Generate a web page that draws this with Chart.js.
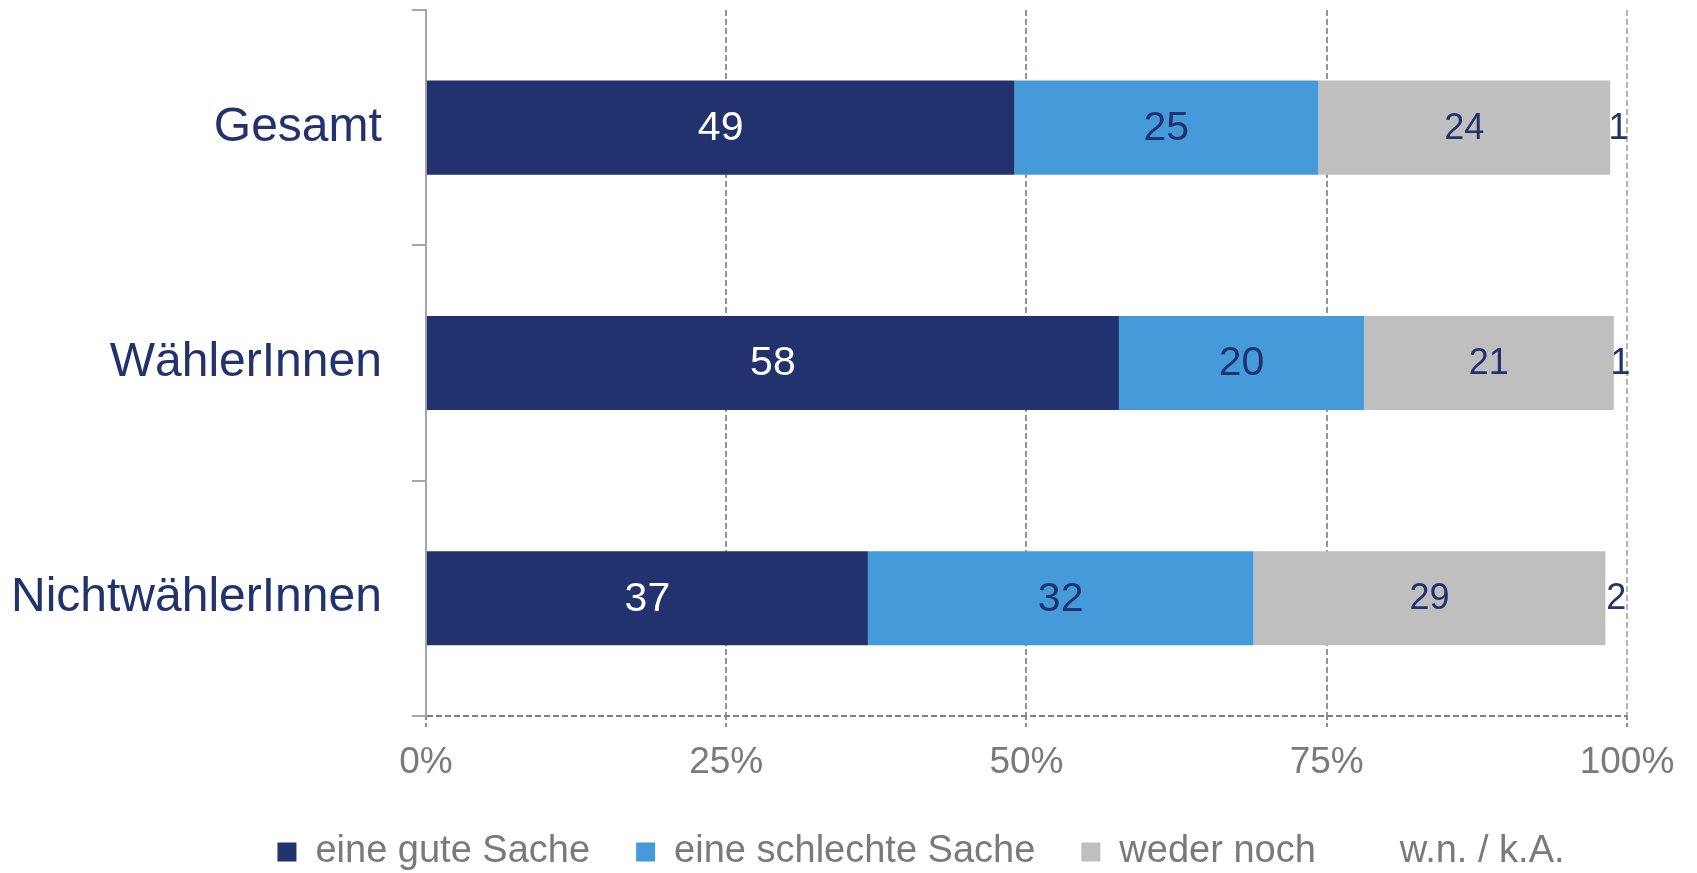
<!DOCTYPE html>
<html><head><meta charset="utf-8">
<script src="https://cdn.jsdelivr.net/npm/chart.js@4.4.1/dist/chart.umd.min.js"></script>
<style>html,body{margin:0;padding:0;background:#fff;}#wrap{width:1697px;height:873px;position:relative;}</style>
</head><body><div id="wrap"><canvas id="c"></canvas></div>
<script>
const categories = ['Gesamt', 'WählerInnen', 'NichtwählerInnen'];
const seriesNames = ['eine gute Sache', 'eine schlechte Sache', 'weder noch', 'w.n. / k.A.'];
const gut = [49.0, 57.7, 36.8];
const schlecht = [25.3, 20.4, 32.1];
const weder = [24.3, 20.8, 29.3];
const wnka = [1.4, 1.1, 1.8];
const xTickValues = [0, 25, 50, 75, 100];

const FONT = '"Liberation Sans", Arial, sans-serif';
const NAVY = '#22326e';

const valueLabels = {
  id: 'valueLabels',
  afterDatasetsDraw(chart) {
    const ctx = chart.ctx;
    chart.data.datasets.forEach((ds, i) => {
      const meta = chart.getDatasetMeta(i);
      if (meta.hidden) return;
      const st = ds.labelStyle;
      ctx.save();
      ctx.font = st.size + 'px ' + FONT;
      ctx.fillStyle = st.color;
      ctx.textAlign = 'center';
      ctx.textBaseline = 'middle';
      meta.data.forEach((el, j) => {
        const x = (el.x + el.base) / 2;
        ctx.fillText(String(Math.round(ds.data[j])), x, el.y + 1);
      });
      ctx.restore();
    });
  }
};

const legendShift = {
  id: 'legendShift',
  afterLayout(chart) {
    const L = chart.legend;
    if (L) { L.left += 102; L.right += 102; }
  }
};

new Chart(document.getElementById('c'), {
  type: 'bar',
  data: {
    labels: categories,
    datasets: [
      { label: seriesNames[0], data: gut, backgroundColor: '#22326e', borderColor: 'rgba(0,0,0,0)', borderWidth: 0, labelStyle: { color: '#ffffff', size: 41 } },
      { label: seriesNames[1], data: schlecht, backgroundColor: '#459ad9', borderColor: 'rgba(0,0,0,0)', borderWidth: 0, labelStyle: { color: NAVY, size: 41 } },
      { label: seriesNames[2], data: weder, backgroundColor: '#bfbfbf', borderColor: 'rgba(0,0,0,0)', borderWidth: 0, labelStyle: { color: NAVY, size: 36 } },
      { label: seriesNames[3], data: wnka, backgroundColor: 'rgba(0,0,0,0)', borderColor: 'rgba(0,0,0,0)', borderWidth: 0, labelStyle: { color: NAVY, size: 36 } }
    ]
  },
  options: {
    indexAxis: 'y',
    responsive: true,
    maintainAspectRatio: false,
    animation: false,
    devicePixelRatio: 1,
    events: [],
    layout: { padding: { left: 11, right: 70, top: 10, bottom: 0 } },
    datasets: { bar: { barPercentage: 0.8, categoryPercentage: 0.5 } },
    scales: {
      x: {
        stacked: true,
        min: 0, max: 100,
        afterBuildTicks(scale) { scale.ticks = xTickValues.map(v => ({ value: v })); },
        afterFit(scale) { scale.height -= scale.options.ticks.padding; },
        ticks: {
          callback: v => v + '%',
          color: '#7a7a7a',
          font: { family: FONT, size: 37, lineHeight: 1.3 },
          padding: 11,
          maxRotation: 0,
          autoSkip: false
        },
        grid: {
          color: c => (c.tick && c.tick.value === 0) ? 'rgba(0,0,0,0)' : (c.tick && c.tick.value === 100 ? '#b4b4b4' : '#949494'),
          lineWidth: 2,
          tickLength: 12,
          tickColor: '#8c8c8c',
          tickBorderDash: [4, 3]
        },
        border: { display: false, dash: [6, 3] }
      },
      y: {
        stacked: true,
        afterFit(scale) {
          scale.width -= scale.options.ticks.padding;
          scale.paddingTop = 0;
          scale.paddingBottom = 0;
        },
        ticks: {
          color: NAVY,
          font: { family: FONT, size: 48 },
          padding: 30
        },
        grid: {
          offset: true,
          drawOnChartArea: true,
          color: c => (c.type === 'tick') ? 'rgba(0,0,0,0)' : '#808080',
          lineWidth: 2,
          tickLength: 14,
          tickColor: '#a6a6a6',
          tickWidth: 2
        },
        border: { display: true, color: '#a6a6a6', width: 2, dash: [6, 3] }
      }
    },
    plugins: {
      legend: {
        position: 'bottom',
        maxHeight: 86,
        labels: {
          color: '#7a7a7a',
          font: { family: FONT, size: 38 },
          boxWidth: 19,
          boxHeight: 19,
          padding: 46
        }
      },
      tooltip: { enabled: false },
      title: { display: false }
    }
  },
  plugins: [valueLabels, legendShift]
});
</script>
</body></html>
